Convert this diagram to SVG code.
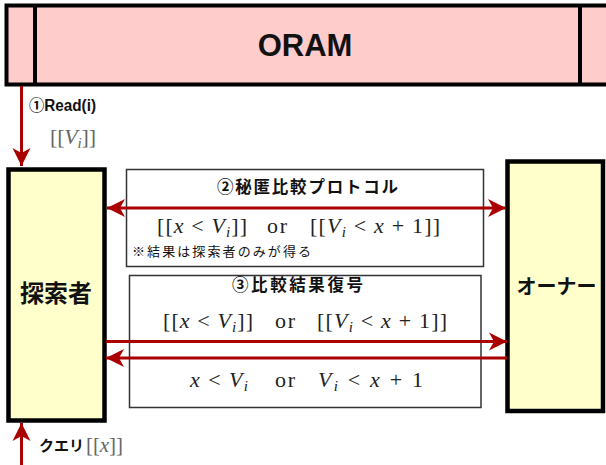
<svg xmlns="http://www.w3.org/2000/svg" width="606" height="465" viewBox="0 0 606 465">
<style>
.lbl{font-family:"Liberation Sans","Noto Sans CJK JP",sans-serif;font-weight:bold;fill:#111}
.note{font-family:"Liberation Sans","Noto Sans CJK JP",sans-serif;font-weight:normal;fill:#111}
.math{font-family:"Liberation Serif","DejaVu Serif",serif;fill:#222}
.gmath{font-family:"Liberation Serif","DejaVu Serif",serif;fill:#666}
.it{font-style:italic}
.con{stroke:#aa0000;stroke-width:3;fill:none}
.node{stroke:#000;stroke-width:4.5}
.box{fill:#fff;stroke:#333;stroke-width:1.5}
</style>
<defs>
<marker id="ah" markerUnits="userSpaceOnUse" markerWidth="20" markerHeight="20" viewBox="0 0 20 20" refX="18" refY="10" orient="auto-start-reverse">
<path d="M0,1 L18,10 L0,19 L5,10 Z" fill="#aa0000"/>
</marker>
</defs>
<rect width="606" height="465" fill="#fff"/>
<g id="oram">
<rect x="6.5" y="5.5" width="620" height="79" fill="#ffcccc" stroke="#000" stroke-width="4"/>
<line x1="35" y1="5" x2="35" y2="85" stroke="#000" stroke-width="4"/>
<line x1="580" y1="5" x2="580" y2="85" stroke="#000" stroke-width="4"/>
<text class="lbl" x="305" y="56" font-size="31" text-anchor="middle">ORAM</text>
</g>
<g id="searcher">
<rect class="node" x="8.5" y="169.5" width="96" height="251" fill="#ffffcc"/>
<text class="lbl" x="56" y="302" font-size="24" text-anchor="middle">探索者</text>
</g>
<g id="owner">
<rect class="node" x="507.5" y="161.5" width="95.5" height="249.5" fill="#ffffcc"/>
<text class="lbl" x="556.5" y="294" font-size="20" text-anchor="middle">オーナー</text>
</g>
<g id="protocol">
<rect class="box" x="126.5" y="169.5" width="357" height="97"/>
<text class="lbl" x="217" y="193" font-size="16.5" textLength="181" lengthAdjust="spacing">②秘匿比較プロトコル</text>
<text class="math" x="157" y="233" font-size="22" textLength="90" lengthAdjust="spacing">[[<tspan class="it">x</tspan> &lt; <tspan class="it">V</tspan><tspan class="it" font-size="15" dy="4">i</tspan><tspan dy="-4">]]</tspan></text>
<text class="math" x="267" y="233" font-size="22" textLength="20" lengthAdjust="spacing">or</text>
<text class="math" x="310" y="233" font-size="22" textLength="130" lengthAdjust="spacing">[[<tspan class="it">V</tspan><tspan class="it" font-size="15" dy="4">i</tspan><tspan dy="-4"> &lt; </tspan><tspan class="it">x</tspan> + 1]]</text>
<text class="note" x="132" y="256" font-size="13" textLength="179" lengthAdjust="spacing">※結果は探索者のみが得る</text>
</g>
<g id="decrypt">
<rect class="box" x="129.5" y="275.5" width="351.5" height="132"/>
<text class="lbl" x="232" y="291" font-size="16.5" textLength="131" lengthAdjust="spacing">③比較結果復号</text>
<text class="math" x="163" y="328" font-size="22" textLength="90" lengthAdjust="spacing">[[<tspan class="it">x</tspan> &lt; <tspan class="it">V</tspan><tspan class="it" font-size="15" dy="4">i</tspan><tspan dy="-4">]]</tspan></text>
<text class="math" x="275" y="328" font-size="22" textLength="20" lengthAdjust="spacing">or</text>
<text class="math" x="317" y="328" font-size="22" textLength="130" lengthAdjust="spacing">[[<tspan class="it">V</tspan><tspan class="it" font-size="15" dy="4">i</tspan><tspan dy="-4"> &lt; </tspan><tspan class="it">x</tspan> + 1]]</text>
<text class="math" x="190" y="387" font-size="22" textLength="58" lengthAdjust="spacing"><tspan class="it">x</tspan> &lt; <tspan class="it">V</tspan><tspan class="it" font-size="15" dy="4">i</tspan></text>
<text class="math" x="275" y="387" font-size="22" textLength="20" lengthAdjust="spacing">or</text>
<text class="math" x="318" y="387" font-size="22" textLength="105" lengthAdjust="spacing"><tspan class="it">V</tspan><tspan class="it" font-size="15" dy="4">i</tspan><tspan dy="-4"> &lt; </tspan><tspan class="it">x</tspan> + 1</text>
</g>
<g id="connectors">
<line class="con" x1="21.5" y1="86" x2="21.5" y2="166" marker-end="url(#ah)"/>
<line class="con" x1="21.5" y1="465" x2="21.5" y2="423" marker-end="url(#ah)"/>
<line class="con" x1="107" y1="208" x2="506" y2="208" marker-start="url(#ah)" marker-end="url(#ah)"/>
<line class="con" x1="106" y1="341.5" x2="507" y2="341.5" marker-end="url(#ah)"/>
<line class="con" x1="507" y1="358" x2="106" y2="358" marker-end="url(#ah)"/>
</g>
<g id="labels">
<text class="lbl" x="29" y="111" font-size="16" textLength="67" lengthAdjust="spacingAndGlyphs">①Read(i)</text>
<text class="gmath" x="50" y="144" font-size="22" textLength="46" lengthAdjust="spacing">[[<tspan class="it">V</tspan><tspan class="it" font-size="15" dy="4">i</tspan><tspan dy="-4">]]</tspan></text>
<text class="lbl" x="39" y="451" font-size="15">クエリ</text>
<text class="gmath" x="86" y="452" font-size="21" textLength="37" lengthAdjust="spacing">[[<tspan class="it">x</tspan>]]</text>
</g>
</svg>
